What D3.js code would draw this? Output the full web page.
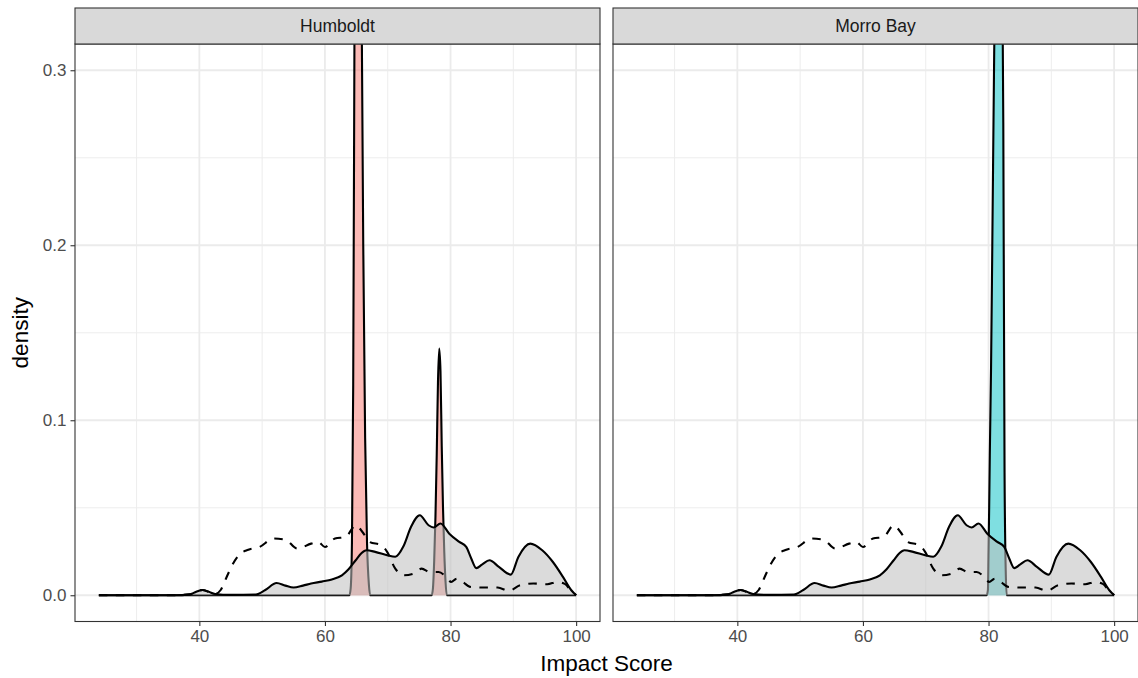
<!DOCTYPE html>
<html><head><meta charset="utf-8">
<script src="https://cdn.jsdelivr.net/npm/d3@7"></script>
<style>body{margin:0;background:#fff;} text{font-family:"Liberation Sans",Arial,Helvetica,sans-serif;}</style>
</head><body><svg id="chart" width="1138" height="678"></svg>
<script>
// ---- data ----
const panels = ["Humboldt", "Morro Bay"];
const panelColors = ["#F8766D", "#00BFC4"];
const xTicks = [40, 60, 80, 100];
const yTicks = [0, 0.1, 0.2, 0.3];
const yTickLabels = ["0.0", "0.1", "0.2", "0.3"];
const xMinor = [30, 50, 70, 90];
const yMinor = [0.05, 0.15, 0.25];

// overall density (grey filled, solid line) - same in both panels
const allX = [24,30,36,38.5,39.5,40.5,41.5,42.5,45,49,50.5,52.3,53.7,55,56.5,57.8,59.5,61.1,62.7,63.8,64.9,65.8,66.6,68,69.9,71.2,72.5,73.7,75.1,76.5,77.3,78.4,79.8,81.4,82.5,83.3,84.1,85,86.2,87.7,89.6,90.8,92.7,94.6,96.3,97.9,99.2,100];
const allY = [0,0,0,0.0005,0.002,0.003,0.002,0.0007,0.0002,0.0004,0.003,0.007,0.0055,0.0044,0.0055,0.0067,0.0078,0.009,0.0114,0.015,0.02,0.024,0.0257,0.0248,0.0229,0.022,0.028,0.039,0.0457,0.040,0.0387,0.041,0.0352,0.0305,0.0276,0.021,0.0155,0.0175,0.02,0.0162,0.0118,0.0219,0.0295,0.0257,0.019,0.0105,0.003,0];

// comparison density (dashed line) - same in both panels
const dashX = [24,36,38.5,40.5,42.5,43.4,44.3,45.2,46.3,47.8,49.6,51.8,53.7,55.6,57.8,58.9,60,61.6,63.3,64.9,66,67.1,69,69.9,71.2,72.6,74.2,75.4,76.7,78.1,79.3,80.1,81,82,83.1,85,87.5,89.3,91.1,93.2,95.4,97,98.2,99.1,100];
const dashY = [0,0,0.0005,0.003,0.0008,0.003,0.01,0.017,0.023,0.026,0.0276,0.0324,0.0318,0.0267,0.0295,0.0305,0.0276,0.0324,0.0333,0.040,0.036,0.0305,0.0286,0.0248,0.0152,0.0114,0.0124,0.0152,0.0133,0.0133,0.0105,0.0076,0.0095,0.0075,0.0048,0.0044,0.0044,0.0025,0.0057,0.0067,0.0063,0.0076,0.0065,0.003,0];

// site densities (coloured)
const humX = [24,63.9,64.1,64.3,64.5,64.7,64.9,65.2,65.5,65.8,66.1,66.4,66.7,67.0,67.2,77.0,77.2,77.4,77.6,77.8,78.0,78.2,78.4,78.6,78.8,79.0,79.2,79.4,100];
const humY = [0,0,0.004,0.03,0.12,0.32,0.5,0.62,0.55,0.36,0.2,0.09,0.03,0.006,0,0,0.004,0.02,0.045,0.08,0.122,0.141,0.128,0.085,0.05,0.025,0.008,0,0];
const morX = [24,79.7,79.9,80.0,80.1,80.2,80.4,80.6,80.9,81.3,81.6,81.9,82.15,82.35,82.55,82.75,82.9,100];
const morY = [0,0,0.003,0.025,0.05,0.08,0.13,0.2,0.31,0.42,0.46,0.43,0.38,0.27,0.07,0.012,0,0];
const siteX = [humX, morX];
const siteY = [humY, morY];

// ---- layout ----
const svg = d3.select("#chart");
const panelW = 525, pTop = 44, pBottom = 621.5, stripTop = 8;
const x0s = [75, 613];
const y = d3.scaleLinear().domain([-0.015, 0.315]).range([pBottom, pTop]);

const zip = (xs, ys) => xs.map((v, i) => [v, ys[i]]);

panels.forEach((name, p) => {
  const x = d3.scaleLinear().domain([20.2, 103.8]).range([x0s[p], x0s[p] + panelW]);
  const g = svg.append("g");
  const clipId = "clip" + p;
  svg.append("clipPath").attr("id", clipId).append("rect")
    .attr("x", x0s[p]).attr("y", pTop).attr("width", panelW).attr("height", pBottom - pTop);

  g.append("rect").attr("x", x0s[p]).attr("y", pTop).attr("width", panelW).attr("height", pBottom - pTop).attr("fill", "#fff");
  // minor grid
  g.selectAll(".mx").data(xMinor).join("line").attr("x1", d => x(d)).attr("x2", d => x(d)).attr("y1", pTop).attr("y2", pBottom).attr("stroke", "#EBEBEB").attr("stroke-width", 0.9);
  g.selectAll(".my").data(yMinor).join("line").attr("x1", x0s[p]).attr("x2", x0s[p] + panelW).attr("y1", d => y(d)).attr("y2", d => y(d)).attr("stroke", "#EBEBEB").attr("stroke-width", 0.9);
  // major grid
  g.selectAll(".Mx").data(xTicks).join("line").attr("x1", d => x(d)).attr("x2", d => x(d)).attr("y1", pTop).attr("y2", pBottom).attr("stroke", "#EBEBEB").attr("stroke-width", 1.8);
  g.selectAll(".My").data(yTicks).join("line").attr("x1", x0s[p]).attr("x2", x0s[p] + panelW).attr("y1", d => y(d)).attr("y2", d => y(d)).attr("stroke", "#EBEBEB").attr("stroke-width", 1.8);

  const plot = g.append("g").attr("clip-path", `url(#${clipId})`);
  const area = d3.area().x(d => x(d[0])).y0(y(0)).y1(d => y(d[1])).curve(d3.curveMonotoneX);
  const line = d3.line().x(d => x(d[0])).y(d => y(d[1])).curve(d3.curveMonotoneX);

  const site = zip(siteX[p], siteY[p]);
  plot.append("path").datum(site).attr("d", area).attr("fill", panelColors[p]).attr("fill-opacity", 0.5);
  plot.append("path").datum(site).attr("d", line).attr("fill", "none").attr("stroke", "#000").attr("stroke-width", 2.1);

  const all = zip(allX, allY);
  plot.append("path").datum(all).attr("d", area).attr("fill", "#BEBEBE").attr("fill-opacity", 0.55);
  plot.append("path").datum(all).attr("d", line).attr("fill", "none").attr("stroke", "#000").attr("stroke-width", 2.1);

  const dash = zip(dashX, dashY);
  plot.append("path").datum(dash).attr("d", line).attr("fill", "none").attr("stroke", "#000").attr("stroke-width", 2.1).attr("stroke-dasharray", "8.5,8.5");

  // panel border
  g.append("rect").attr("x", x0s[p]).attr("y", pTop).attr("width", panelW).attr("height", pBottom - pTop).attr("fill", "none").attr("stroke", "#333").attr("stroke-width", 1.1);
  // strip
  g.append("rect").attr("x", x0s[p]).attr("y", stripTop).attr("width", panelW).attr("height", pTop - stripTop).attr("fill", "#D9D9D9").attr("stroke", "#333").attr("stroke-width", 1.1);
  g.append("text").attr("x", x0s[p] + panelW / 2).attr("y", (stripTop + pTop) / 2 + 6).attr("text-anchor", "middle").attr("font-size", 17.5).attr("fill", "#1A1A1A").text(name);

  // x axis
  const xa = g.append("g").attr("transform", `translate(0,${pBottom})`).call(d3.axisBottom(x).tickValues(xTicks).tickSize(4.5).tickPadding(4).tickFormat(d3.format("d")));
  xa.select(".domain").remove();
  xa.selectAll("line").attr("stroke", "#333").attr("stroke-width", 1.1);
  xa.selectAll("text").attr("font-size", 17).attr("fill", "#4D4D4D").attr("font-family", '"Liberation Sans",Arial,sans-serif');

  if (p === 0) {
    const ya = g.append("g").attr("transform", `translate(${x0s[p]},0)`).call(d3.axisLeft(y).tickValues(yTicks).tickSize(4.5).tickPadding(4).tickFormat((d, i) => yTickLabels[i]));
    ya.select(".domain").remove();
    ya.selectAll("line").attr("stroke", "#333").attr("stroke-width", 1.1);
    ya.selectAll("text").attr("font-size", 17).attr("fill", "#4D4D4D").attr("font-family", '"Liberation Sans",Arial,sans-serif');
  }
});

svg.append("text").attr("x", (x0s[0] + x0s[1] + panelW) / 2).attr("y", 671).attr("text-anchor", "middle").attr("font-size", 22.5).attr("fill", "#000").text("Impact Score");
svg.append("text").attr("transform", `translate(28,${(pTop + pBottom) / 2}) rotate(-90)`).attr("text-anchor", "middle").attr("font-size", 22.5).attr("fill", "#000").text("density");
</script></body></html>
